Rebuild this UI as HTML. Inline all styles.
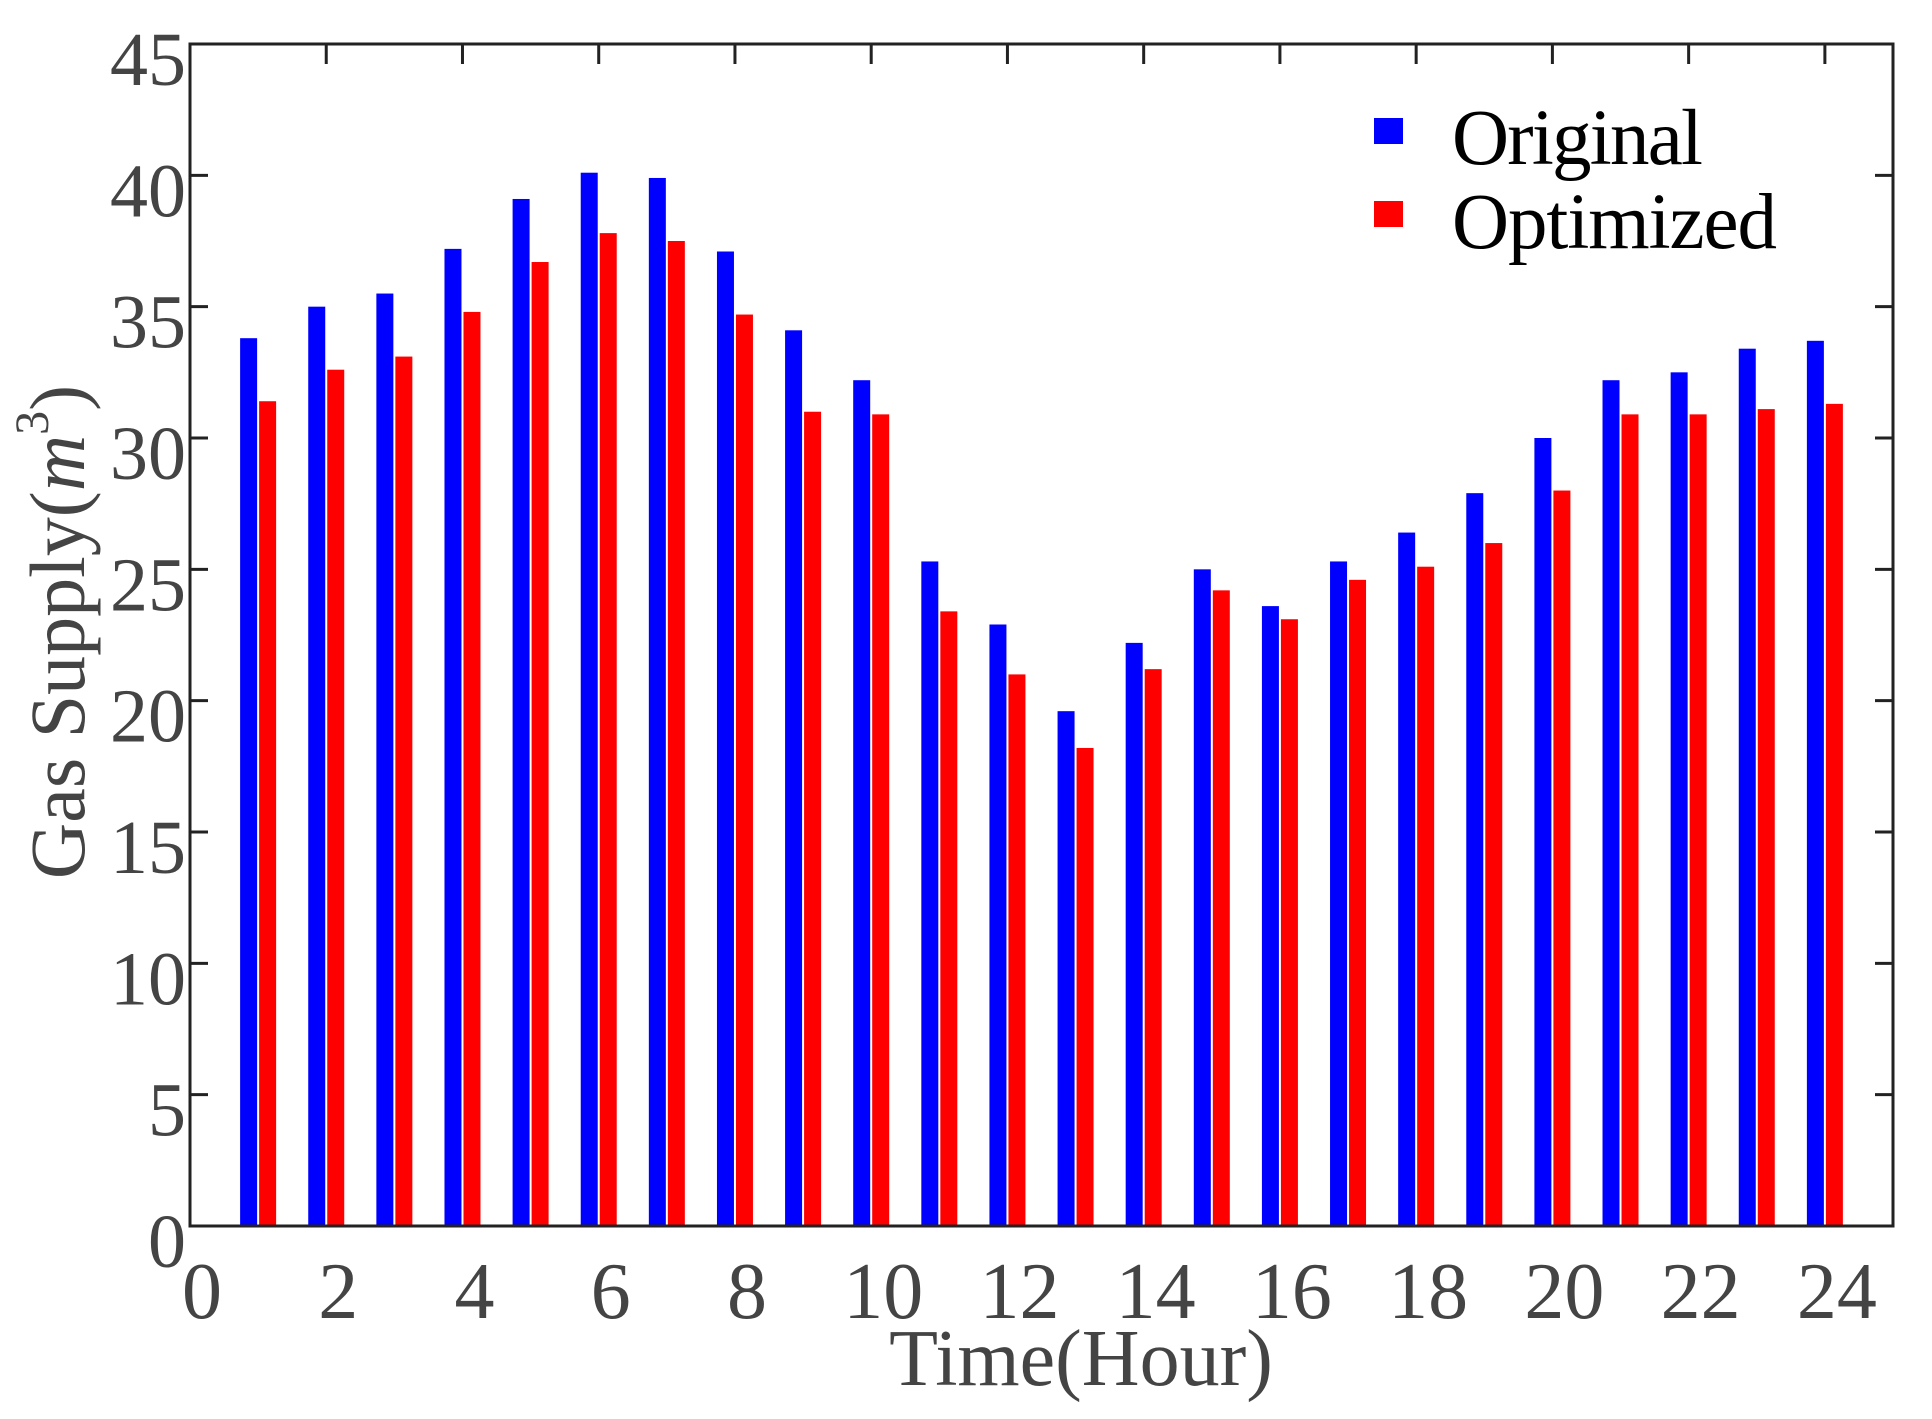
<!DOCTYPE html>
<html><head><meta charset="utf-8"><style>html,body{margin:0;padding:0;background:#fff}svg{display:block}</style></head>
<body>
<svg width="1932" height="1419" viewBox="0 0 1932 1419" xmlns="http://www.w3.org/2000/svg">
<rect width="1932" height="1419" fill="#fff"/>
<g id="bars"></g>
<g id="axes" stroke="#222" stroke-width="3" fill="none">
<rect x="190" y="44" width="1703" height="1182"/>
</g>
<g id="ticks" stroke="#222" stroke-width="3"></g>
<g id="labels" font-family="Liberation Serif, serif" fill="#444"></g>
<text x="0" y="0" transform="translate(84,632) rotate(-90)" font-family="Liberation Serif, serif" font-size="78" fill="#444" text-anchor="middle">Gas Supply(<tspan font-style="italic">m</tspan><tspan font-size="48" dy="-36">3</tspan><tspan dy="36">)</tspan></text>
<text x="1081" y="1385" font-family="Liberation Serif, serif" font-size="80" fill="#444" text-anchor="middle">Time(Hour)</text>
<rect x="1374" y="118" width="29" height="26" fill="#00f"/>
<rect x="1374" y="201" width="29" height="26" fill="#f00"/>
<text x="1452" y="164" font-family="Liberation Serif, serif" font-size="79" fill="#000" textLength="251">Original</text>
<text x="1452" y="248" font-family="Liberation Serif, serif" font-size="79" fill="#000" textLength="325">Optimized</text>
</svg>
<script>
var B=[33.8,35.0,35.5,37.2,39.1,40.1,39.9,37.1,34.1,32.2,25.3,22.9,19.6,22.2,25.0,23.6,25.3,26.4,27.9,30.0,32.2,32.5,33.4,33.7];
var R=[31.4,32.6,33.1,34.8,36.7,37.8,37.5,34.7,31.0,30.9,23.4,21.0,18.2,21.2,24.2,23.1,24.6,25.1,26.0,28.0,30.9,30.9,31.1,31.3];
var ns="http://www.w3.org/2000/svg";
function el(p,t,a,txt){var e=document.createElementNS(ns,t);for(var k in a)e.setAttribute(k,a[k]);if(txt!==undefined)e.textContent=txt;document.getElementById(p).appendChild(e);}
var X=function(h){return 190+h*68.12;},Y=function(v){return 1226-v*1182/45;};
for(var i=0;i<24;i++){var c=X(i+1);
el("bars","rect",{x:c-18,y:Y(B[i]),width:17,height:1226-Y(B[i]),fill:"#00f"});
el("bars","rect",{x:c+1,y:Y(R[i]),width:17,height:1226-Y(R[i]),fill:"#f00"});}
for(var h=0;h<=24;h+=2){var x=X(h);
if(h>0){el("ticks","line",{x1:x,y1:44,x2:x,y2:64});}
el("labels","text",{x:x+12,y:1318,"font-size":80,"text-anchor":"middle"},String(h));}
for(var v=0;v<=45;v+=5){var y=Y(v);
if(v>0&&v<45){el("ticks","line",{x1:190,y1:y,x2:208,y2:y});el("ticks","line",{x1:1893,y1:y,x2:1875,y2:y});}
el("labels","text",{x:186,y:y+41,"font-size":76,"text-anchor":"end"},String(v));}
</script>
</body></html>
